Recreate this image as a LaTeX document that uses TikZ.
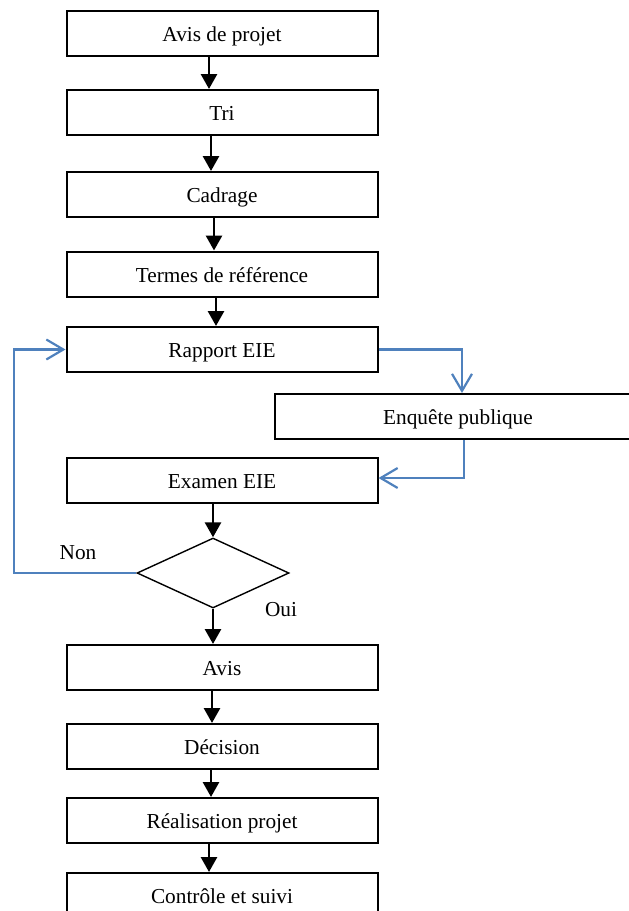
\documentclass[tikz,border=0pt]{standalone}
\usepackage{fontspec}
\setmainfont{Liberation Serif}
\usetikzlibrary{arrows.meta,shapes.geometric}
\definecolor{bleu}{RGB}{79,129,189}
\begin{document}
\begin{tikzpicture}[x=1pt,y=-1pt,
  etiquette/.style={font=\fontsize{21.3}{25}\selectfont},
  ligne/.style={etiquette,text height=18pt,text depth=2pt,inner sep=0pt},
  boite/.style={ligne,draw,line width=2pt,minimum width=311pt,minimum height=45pt},
  fleche/.style={line width=2.8pt,-{Triangle[width=16pt,length=15pt]}},
  retour/.style={draw=bleu,line width=2.2pt,-{Straight Barb[length=17pt,width=20pt,line width=2.2pt]}}]
\useasboundingbox (0,0) rectangle (629,911);
\clip (0,0) rectangle (629,911);
\foreach \nom/\y/\texte in {avis/33.5/Avis de projet, tri/112.5/Tri, cadrage/194.5/Cadrage, termes/274/Termes de référence, rapport/349.5/Rapport EIE, examen/480.5/Examen EIE, avisfin/667.5/Avis, decision/746.5/Décision, realisation/820.5/Réalisation projet, controle/895.5/Contrôle et suivi}
  \node[boite] (\nom) at (222,\y) {\texte};
\node[boite,minimum width=376pt] (enquete) at (463,416.5) {};
\node[ligne] at (458,416.5) {Enquête publique};
\node[draw,diamond,line width=1.4pt,minimum width=152pt,minimum height=70pt,inner sep=0pt] (choix) at (213,573) {};
\node[etiquette] (non) at (78,553) {Non};
\node[etiquette] (oui) at (281,610) {Oui};
\foreach \a/\b/\dx in {avis/tri/-13, tri/cadrage/-11, cadrage/termes/-8, termes/rapport/-6, avisfin/decision/-10, decision/realisation/-11, realisation/controle/-13}
  \draw[fleche] ([xshift=\dx pt]\a.south) -- ([xshift=\dx pt]\b.north);
\draw[fleche] (choix.north |- examen.south) -- (choix.north);
\draw[fleche] (choix.south) -- (choix.south |- avisfin.north);
\draw[retour] (rapport.east) -| ([xshift=-1pt]enquete.north);
\draw[retour] ([xshift=1pt]enquete.south) |- ([yshift=2.5pt]examen.east);
\draw[retour] (choix.west) -| (14,349.5) -- (rapport.west);
\end{tikzpicture}
\end{document}
